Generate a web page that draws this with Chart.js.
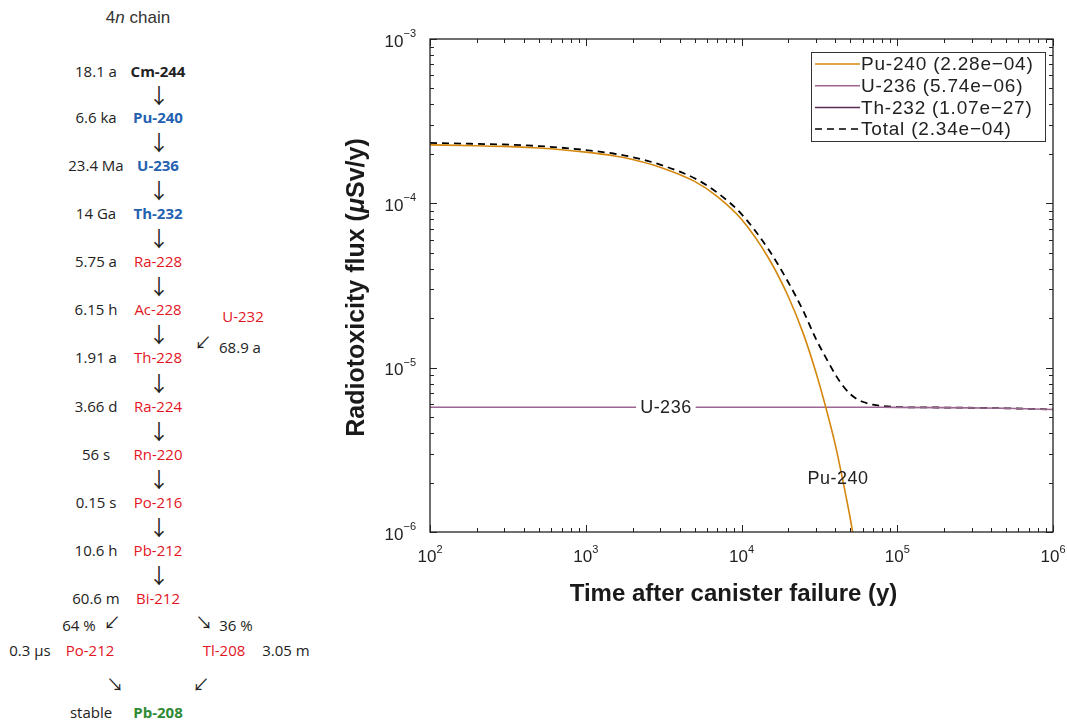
<!DOCTYPE html>
<html>
<head>
<meta charset="utf-8">
<script src="https://cdn.jsdelivr.net/npm/chart.js@4"></script>
<style>
  body { margin: 0; background: #fff; width: 1067px; height: 720px; overflow: hidden; position: relative; }
  #wrap { position: absolute; left: 0; top: 0; width: 1067px; height: 720px; }
  .t { position: absolute; transform: translate(-50%, -50%); white-space: nowrap; font-family: "Open Sans", sans-serif; font-size: 15px; color: #222; }
  .b { font-weight: bold; }
  .blue { color: #2462b0; font-weight: bold; }
  .red { color: #e3151f; }
  .green { color: #2f8a34; font-weight: bold; }
  .ar { font-family: "Noto Sans CJK JP", "DejaVu Sans", sans-serif; font-size: 21px; color: #222; }
  .sa { font-family: "Noto Sans CJK JP", "DejaVu Sans", sans-serif; font-size: 17px; color: #222; }
  #ttl { font-family: "Liberation Sans", Arial, sans-serif; font-size: 17px; color: #333; }
</style>
</head>
<body>
<div class="t" id="ttl" style="left:138px;top:18px">4<i>n</i> chain</div>

<div class="t" style="left:96px;top:71px">18.1 a</div><div class="t b" style="left:158px;top:71px">Cm-244</div>
<div class="t ar" style="left:159px;top:94px">↓</div>
<div class="t" style="left:96px;top:117px">6.6 ka</div><div class="t blue" style="left:158px;top:117px">Pu-240</div>
<div class="t ar" style="left:159px;top:141px">↓</div>
<div class="t" style="left:96px;top:165px">23.4 Ma</div><div class="t blue" style="left:158px;top:165px">U-236</div>
<div class="t ar" style="left:159px;top:189px">↓</div>
<div class="t" style="left:96px;top:213px">14 Ga</div><div class="t blue" style="left:158px;top:213px">Th-232</div>
<div class="t ar" style="left:159px;top:237px">↓</div>
<div class="t" style="left:96px;top:261px">5.75 a</div><div class="t red" style="left:158px;top:261px">Ra-228</div>
<div class="t ar" style="left:159px;top:285px">↓</div>
<div class="t" style="left:96px;top:309px">6.15 h</div><div class="t red" style="left:158px;top:309px">Ac-228</div>
<div class="t red" style="left:243px;top:316px">U-232</div>
<div class="t sa" style="left:203px;top:341px">↙</div>
<div class="t" style="left:240px;top:347px">68.9 a</div>
<div class="t ar" style="left:159px;top:333px">↓</div>
<div class="t" style="left:96px;top:357px">1.91 a</div><div class="t red" style="left:158px;top:357px">Th-228</div>
<div class="t ar" style="left:159px;top:382px">↓</div>
<div class="t" style="left:96px;top:406px">3.66 d</div><div class="t red" style="left:158px;top:406px">Ra-224</div>
<div class="t ar" style="left:159px;top:430px">↓</div>
<div class="t" style="left:96px;top:454px">56 s</div><div class="t red" style="left:158px;top:454px">Rn-220</div>
<div class="t ar" style="left:159px;top:478px">↓</div>
<div class="t" style="left:96px;top:502px">0.15 s</div><div class="t red" style="left:158px;top:502px">Po-216</div>
<div class="t ar" style="left:159px;top:526px">↓</div>
<div class="t" style="left:96px;top:550px">10.6 h</div><div class="t red" style="left:158px;top:550px">Pb-212</div>
<div class="t ar" style="left:159px;top:574px">↓</div>
<div class="t" style="left:96px;top:598px">60.6 m</div><div class="t red" style="left:158px;top:598px">Bi-212</div>
<div class="t" style="left:79px;top:625px">64 %</div><div class="t sa" style="left:112px;top:621px">↙</div>
<div class="t sa" style="left:204px;top:621px">↘</div><div class="t" style="left:236px;top:625px">36 %</div>
<div class="t" style="left:30px;top:650px">0.3 μs</div><div class="t red" style="left:90px;top:650px">Po-212</div>
<div class="t red" style="left:224px;top:650px">Tl-208</div><div class="t" style="left:286px;top:650px">3.05 m</div>
<div class="t sa" style="left:115px;top:683px">↘</div><div class="t sa" style="left:201px;top:683px">↙</div>
<div class="t" style="left:91px;top:712px">stable</div><div class="t green" style="left:158px;top:712px">Pb-208</div>

<div id="wrap"><canvas id="thecanvas" width="1067" height="720"></canvas></div>

<script>
// values
const times = [100, 200, 300, 500, 700, 1000, 1500, 2000, 3000, 5000, 7000, 10000, 15000, 20000, 25000, 30000,
  35000, 40000, 45000, 50000, 55000, 60000, 70000, 80000, 100000, 200000, 500000, 1000000];
const pu240 = [2.27e-4, 2.24e-4, 2.22e-4, 2.17e-4, 2.12e-4, 2.05e-4, 1.95e-4, 1.85e-4, 1.66e-4, 1.36e-4, 1.10e-4,
  8.0e-5, 4.6e-5, 2.7e-5, 1.6e-5, 9.4e-6, 5.6e-6, 3.4e-6, 2.0e-6, 1.2e-6, 7.0e-7, 4.2e-7, null, null, null, null, null, null];
const u236 = [5.74e-6, 5.74e-6, 5.74e-6, 5.74e-6, 5.74e-6, 5.74e-6, 5.74e-6, 5.74e-6, 5.74e-6, 5.74e-6, 5.74e-6,
  5.74e-6, 5.74e-6, 5.74e-6, 5.74e-6, 5.74e-6, 5.74e-6, 5.74e-6, 5.74e-6, 5.74e-6, 5.74e-6, 5.74e-6, 5.74e-6,
  5.74e-6, 5.73e-6, 5.71e-6, 5.66e-6, 5.57e-6];
const th232 = [1.07e-27, 1.07e-27, 1.07e-27, 1.07e-27, 1.07e-27, 1.07e-27, 1.07e-27, 1.07e-27, 1.07e-27, 1.07e-27,
  1.07e-27, 1.07e-27, 1.07e-27, 1.07e-27, 1.07e-27, 1.07e-27, 1.07e-27, 1.07e-27, 1.07e-27, 1.07e-27, 1.07e-27,
  1.07e-27, 1.07e-27, 1.07e-27, 1.07e-27, 1.07e-27, 1.07e-27, 1.07e-27];
const total = [2.33e-4, 2.30e-4, 2.28e-4, 2.23e-4, 2.18e-4, 2.11e-4, 2.01e-4, 1.91e-4, 1.72e-4, 1.42e-4, 1.16e-4,
  8.6e-5, 5.2e-5, 3.3e-5, 2.2e-5, 1.5e-5, 1.14e-5, 9.1e-6, 7.7e-6, 6.9e-6, 6.45e-6, 6.2e-6, 5.95e-6, 5.85e-6,
  5.76e-6, 5.72e-6, 5.66e-6, 5.57e-6];
const seriesnames = ['Pu-240 (2.28e\u221204)', 'U-236 (5.74e\u221206)', 'Th-232 (1.07e\u221227)', 'Total (2.34e\u221204)'];
const seriescolors = ['#d4870c', '#9c6690', '#5b2a52', '#000000'];
const xticks = [2, 3, 4, 5, 6];      // exponents
const yticks = [-6, -5, -4, -3];

function topoints(vals) {
  const pts = [];
  for (let i = 0; i < times.length; i++) {
    pts.push({ x: times[i], y: vals[i] });
  }
  return pts;
}

const sansfont = '"Liberation Sans", Arial, sans-serif';

// box, inward ticks, tick labels, titles, legend and curve labels
const decor = {
  id: 'decor',
  afterDatasetsDraw(chart) {
    const ctx = chart.ctx;
    const a = chart.chartArea;
    const xs = chart.scales.x;
    const ys = chart.scales.y;
    ctx.save();
    ctx.strokeStyle = '#222';
    ctx.fillStyle = '#222';
    ctx.lineWidth = 1.3;
    ctx.strokeRect(a.left, a.top, a.right - a.left, a.bottom - a.top);

    ctx.lineWidth = 1;
    ctx.beginPath();
    for (let e = 2; e <= 6; e++) {
      for (let m = 1; m <= 9; m++) {
        if (e === 6 && m > 1) break;
        const px = Math.round(xs.getPixelForValue(m * Math.pow(10, e))) + 0.5;
        const len = m === 1 ? 7 : 4;
        ctx.moveTo(px, a.bottom); ctx.lineTo(px, a.bottom - len);
        ctx.moveTo(px, a.top); ctx.lineTo(px, a.top + len);
      }
    }
    for (let e = -6; e <= -3; e++) {
      for (let m = 1; m <= 9; m++) {
        if (e === -3 && m > 1) break;
        const py = Math.round(ys.getPixelForValue(m * Math.pow(10, e))) + 0.5;
        const len = m === 1 ? 7 : 4;
        ctx.moveTo(a.left, py); ctx.lineTo(a.left + len, py);
        ctx.moveTo(a.right, py); ctx.lineTo(a.right - len, py);
      }
    }
    ctx.stroke();

    // tick labels 10^n
    ctx.textBaseline = 'middle';
    ctx.textAlign = 'left';
    yticks.forEach(function (e) {
      const py = ys.getPixelForValue(Math.pow(10, e));
      const ex = '\u2212' + Math.abs(e);
      ctx.font = '11px ' + sansfont;
      const ew = ctx.measureText(ex).width;
      ctx.fillText(ex, 416 - ew, py - 5);
      ctx.font = '17px ' + sansfont;
      const bw = ctx.measureText('10').width;
      ctx.fillText('10', 416 - ew - bw, py + 3);
    });
    xticks.forEach(function (e) {
      const px = xs.getPixelForValue(Math.pow(10, e));
      const ex = String(e);
      ctx.font = '11px ' + sansfont;
      const ew = ctx.measureText(ex).width;
      ctx.font = '17px ' + sansfont;
      const bw = ctx.measureText('10').width;
      const x0 = px - (bw + ew) / 2;
      ctx.fillText('10', x0, a.bottom + 25);
      ctx.font = '11px ' + sansfont;
      ctx.fillText(ex, x0 + bw, a.bottom + 18);
    });

    // axis titles
    ctx.fillStyle = '#1a1a1a';
    ctx.font = 'bold 24px ' + sansfont;
    ctx.textAlign = 'center';
    ctx.fillText('Time after canister failure (y)', (a.left + a.right) / 2 - 8, a.bottom + 62);

    ctx.save();
    ctx.translate(357, (a.top + a.bottom) / 2 + 2);
    ctx.rotate(-Math.PI / 2);
    const parts = [['Radiotoxicity flux (', 'bold 25px '], ['\u03bc', 'italic bold 25px '], ['Sv/y)', 'bold 25px ']];
    let tw = 0;
    parts.forEach(function (p) { ctx.font = p[1] + sansfont; tw += ctx.measureText(p[0]).width; });
    let cx = -tw / 2;
    ctx.textAlign = 'left';
    parts.forEach(function (p) {
      ctx.font = p[1] + sansfont;
      ctx.fillText(p[0], cx, 0);
      cx += ctx.measureText(p[0]).width;
    });
    ctx.restore();

    // labels on the curves
    ctx.font = '18px ' + sansfont;
    ctx.letterSpacing = '0.5px';
    ctx.textAlign = 'center';
    const ux = xs.getPixelForValue(3270);
    const uy = ys.getPixelForValue(5.74e-6);
    const uw = ctx.measureText('U-236').width;
    ctx.fillStyle = '#fff';
    ctx.fillRect(ux - uw / 2 - 4, uy - 9, uw + 8, 18);
    ctx.fillStyle = '#222';
    ctx.fillText('U-236', ux, uy + 1);
    ctx.fillText('Pu-240', xs.getPixelForValue(41700), ys.getPixelForValue(2.1e-6));

    // legend
    const lx = 811, ly = 52, lw = 234, lh = 89;
    ctx.fillStyle = '#fff';
    ctx.fillRect(lx, ly, lw, lh);
    ctx.strokeStyle = '#333';
    ctx.lineWidth = 1;
    ctx.strokeRect(lx + 0.5, ly + 0.5, lw, lh);
    ctx.textAlign = 'left';
    ctx.font = '19px ' + sansfont;
    ctx.letterSpacing = '0.8px';
    for (let i = 0; i < seriesnames.length; i++) {
      const ry = ly + 12 + i * 21.7;
      ctx.strokeStyle = seriescolors[i];
      ctx.lineWidth = 1.5;
      ctx.setLineDash(i === 3 ? [7, 5] : []);
      ctx.beginPath();
      ctx.moveTo(lx + 4, ry); ctx.lineTo(lx + 49, ry);
      ctx.stroke();
      ctx.setLineDash([]);
      ctx.fillStyle = '#222';
      ctx.fillText(seriesnames[i], lx + 50, ry + 1);
    }
    ctx.letterSpacing = '0px';
    ctx.restore();
  }
};

const ctx = document.getElementById('thecanvas');
const mychart = new Chart(ctx, {
  type: 'line',
  data: {
    datasets: [
      { label: seriesnames[0], data: topoints(pu240), borderColor: seriescolors[0], borderWidth: 1.6, cubicInterpolationMode: 'monotone' },
      { label: seriesnames[1], data: topoints(u236), borderColor: seriescolors[1], borderWidth: 1.6 },
      { label: seriesnames[2], data: topoints(th232), borderColor: seriescolors[2], borderWidth: 1.6 },
      { label: seriesnames[3], data: topoints(total), borderColor: seriescolors[3], borderWidth: 1.8, borderDash: [7, 5], cubicInterpolationMode: 'monotone' }
    ]
  },
  options: {
    responsive: false,
    animation: false,
    events: [],
    layout: { padding: { left: 430, right: 14, top: 39, bottom: 188 } },
    elements: { point: { radius: 0 } },
    scales: {
      x: { type: 'logarithmic', min: 100, max: 1000000, display: false },
      y: { type: 'logarithmic', min: 1e-6, max: 1e-3, display: false }
    },
    plugins: { legend: { display: false }, tooltip: { enabled: false } }
  },
  plugins: [decor]
});
</script>
</body>
</html>
